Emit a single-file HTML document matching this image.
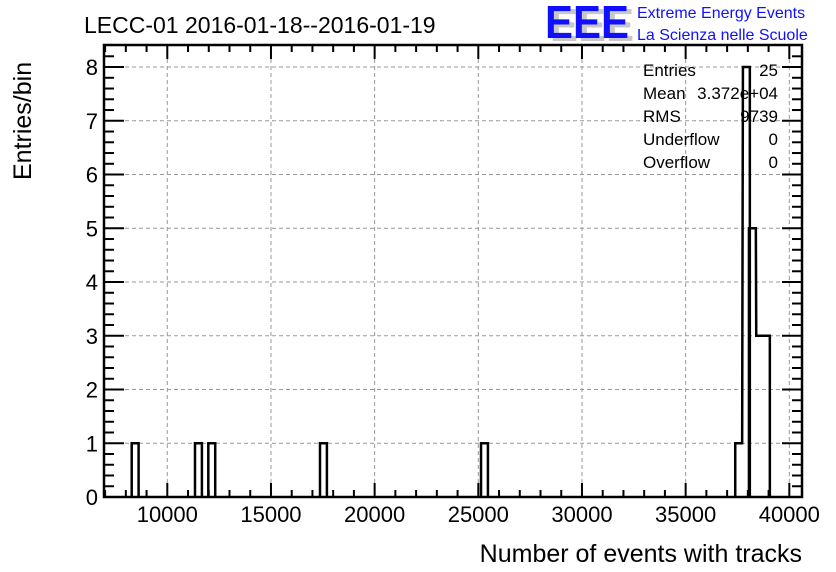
<!DOCTYPE html>
<html><head><meta charset="utf-8"><style>
body{margin:0;background:#fff;}
svg{display:block;font-family:"Liberation Sans",sans-serif;}
</style></head><body>
<svg id="c" width="836" height="572" viewBox="0 0 836 572">
<rect width="836" height="572" fill="#fff"/>
<text x="84" y="33" font-size="23">LECC-01 2016-01-18--2016-01-19</text>
<g>
<text x="550" y="41" font-size="46" font-weight="bold" fill="#c8c8c8" textLength="84" lengthAdjust="spacingAndGlyphs">EEE</text>
<text x="545" y="38" font-size="46" font-weight="bold" fill="#1010ff" textLength="84" lengthAdjust="spacingAndGlyphs">EEE</text>
<text x="637" y="18" font-size="16" fill="#1010ff">Extreme Energy Events</text>
<text x="637" y="40" font-size="16" fill="#1010ff">La Scienza nelle Scuole</text>
</g>
<g id="grid"></g>
<g id="bars"></g>
<g id="axes"></g>
<g font-size="17">
<text x="643" y="76">Entries</text><text x="778" y="76" text-anchor="end">25</text>
<text x="643" y="99">Mean</text><text x="778" y="99" text-anchor="end">3.372e+04</text>
<text x="643" y="122">RMS</text><text x="778" y="122" text-anchor="end">9739</text>
<text x="643" y="145">Underflow</text><text x="778" y="145" text-anchor="end">0</text>
<text x="643" y="168">Overflow</text><text x="778" y="168" text-anchor="end">0</text>
</g>
<text x="802" y="562" font-size="25" text-anchor="end">Number of events with tracks</text>
<text transform="translate(31,180) rotate(-90)" font-size="25">Entries/bin</text>
</svg>
<script>
const binStarts=[8283,11336,11978,17365,25131,37392,37763,38053,38405,38728];
const binCounts=[1,1,1,1,1,1,8,5,3,3];
const binWidth=333;
const xTicks=[10000,15000,20000,25000,30000,35000,40000];
const yTicks=[0,1,2,3,4,5,6,7,8];
const X0=104,X1=802,Y0=497,Y1=45,XMIN=6947,XMAX=40612,YMAX=8.41;
const sx=v=>X0+(v-XMIN)/(XMAX-XMIN)*(X1-X0);
const sy=v=>Y0-v/YMAX*(Y0-Y1);
const NS="http://www.w3.org/2000/svg";
function mk(p,t,a){const e=document.createElementNS(NS,t);for(const k in a)e.setAttribute(k,a[k]);p.appendChild(e);return e;}
const grid=document.getElementById('grid'),bars=document.getElementById('bars'),axes=document.getElementById('axes');
xTicks.forEach(v=>{const l=mk(grid,'line',{x1:sx(v),x2:sx(v),y1:Y0,y2:Y1,stroke:'#999','stroke-dasharray':'4,3','stroke-width':1});

});
yTicks.forEach(v=>{const l=mk(grid,'line',{x1:X0,x2:X1,y1:sy(v),y2:sy(v),stroke:'#999','stroke-dasharray':'4,3','stroke-width':1});

});
// histogram outline
let d='',prevEnd=null;
binStarts.forEach((s,i)=>{const x0=sx(s),x1=sx(s+binWidth),y=sy(binCounts[i]);
if(prevEnd!==null&&Math.abs(prevEnd-s)<40){d+=` L${x0},${y} L${x1},${y}`;}else{if(prevEnd!==null)d+=` L${sx(prevEnd)},${Y0}`;d+=` M${x0},${Y0} L${x0},${y} L${x1},${y}`;}
prevEnd=s+binWidth;});
d+=` L${sx(prevEnd)},${Y0}`;
const h=mk(bars,'path',{d:d,fill:'none',stroke:'#000','stroke-width':2.5});


const fr=mk(axes,'rect',{x:X0,y:Y1,width:X1-X0,height:Y0-Y1,fill:'none',stroke:'#000','stroke-width':2.5});


for(let v=7000;v<=40600;v+=1000){const maj=v%5000===0,L=maj?14:7,x=sx(v);
mk(axes,'line',{x1:x,x2:x,y1:Y0,y2:Y0-L,stroke:'#000','stroke-width':2});
mk(axes,'line',{x1:x,x2:x,y1:Y1,y2:Y1+L,stroke:'#000','stroke-width':2});}
for(let v=0;v<=8.4;v+=0.2){const maj=Math.abs(v-Math.round(v))<1e-6,L=maj?20:10,y=sy(v);
mk(axes,'line',{x1:X0,x2:X0+L,y1:y,y2:y,stroke:'#000','stroke-width':2});
mk(axes,'line',{x1:X1,x2:X1-L,y1:y,y2:y,stroke:'#000','stroke-width':2});}
xTicks.forEach(v=>{const t=mk(axes,'text',{x:sx(v),y:522,'font-size':22,'text-anchor':'middle'});t.textContent=v;

});
yTicks.forEach(v=>{const t=mk(axes,'text',{x:98,y:sy(v)+8,'font-size':22,'text-anchor':'end'});t.textContent=v;

});
</script>
</body></html>
